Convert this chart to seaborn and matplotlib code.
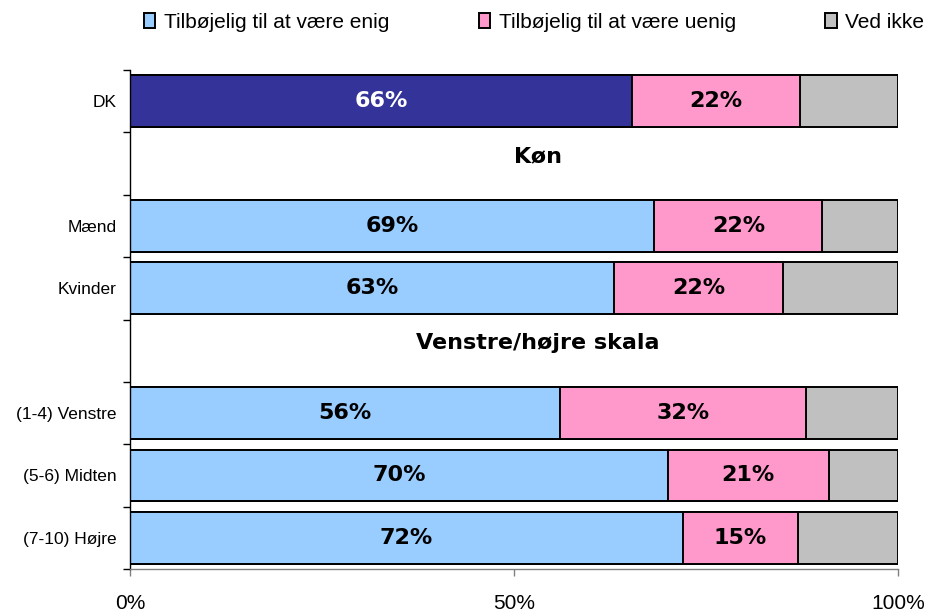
import numpy as np
import pandas as pd
import matplotlib
matplotlib.use("Agg")
import matplotlib.pyplot as plt
import seaborn as sns
from matplotlib.patches import Patch

categories = ["DK", "", "Mænd", "Kvinder", " ", "(1-4) Venstre", "(5-6) Midten", "(7-10) Højre"]
enig = [65.3, np.nan, 68.2, 63.0, np.nan, 55.9, 70.0, 71.9]
uenig = [21.9, np.nan, 21.9, 21.9, np.nan, 32.1, 20.9, 15.0]
enig_labels = ["66%", "", "69%", "63%", "", "56%", "70%", "72%"]
uenig_labels = ["22%", "", "22%", "22%", "", "32%", "21%", "15%"]
group_titles = {1: "Køn", 4: "Venstre/højre skala"}
series_names = ["Tilbøjelig til at være enig", "Tilbøjelig til at være uenig", "Ved ikke"]
xticks = [0, 50, 100]
xticklabels = ["0%", "50%", "100%"]

C_DK = "#333399"
C_ENIG = "#99CCFF"
C_UENIG = "#FF99CC"
C_VED = "#C0C0C0"

df = pd.DataFrame({"cat": categories, "enig": enig, "uenig": uenig})
df["cum2"] = df["enig"] + df["uenig"]
df["total"] = np.where(df["enig"].notna(), 100.0, np.nan)

sns.set_style("white")
plt.rcParams["font.family"] = ["Liberation Sans", "DejaVu Sans"]
plt.rcParams["text.color"] = "black"
plt.rcParams["xtick.labelcolor"] = "black"
plt.rcParams["ytick.labelcolor"] = "black"

fig = plt.figure(figsize=(9.28, 6.13), dpi=100)
ax = fig.add_axes([130.5 / 928, 1 - 569 / 613, 768 / 928, 499 / 613])

w = 0.83
kw = dict(y="cat", orient="h", order=categories, width=w, edgecolor="black",
          linewidth=1.4, ax=ax, saturation=1)
sns.barplot(data=df, x="total", color=C_VED, **kw)
sns.barplot(data=df, x="cum2", color=C_UENIG, **kw)
enig_pal = {c: (C_DK if c == "DK" else C_ENIG) for c in categories}
sns.barplot(data=df, x="enig", hue="cat", palette=enig_pal, legend=False, **kw)

ax.set_xlim(0, 100)
ax.set_ylim(len(categories) - 0.5, -0.5)
ax.set_xlabel("")
ax.set_ylabel("")

# labels
for i in range(len(categories)):
    if enig_labels[i]:
        ax.text(enig[i] / 2, i, enig_labels[i], ha="center", va="center",
                fontsize=16, fontweight="bold", family="DejaVu Sans",
                color="white" if categories[i] == "DK" else "black")
        ax.text(enig[i] + uenig[i] / 2, i, uenig_labels[i], ha="center", va="center",
                fontsize=16, fontweight="bold", family="DejaVu Sans", color="black")
for i, t in group_titles.items():
    ax.text(53, i - 0.12, t, ha="center", va="center", fontsize=16,
            fontweight="bold", family="DejaVu Sans")

# y ticks at boundaries, labels at centers
ax.set_yticks(np.arange(-0.5, len(categories) + 0.5, 1.0))
ax.set_yticklabels([])
ax.set_yticks(np.arange(len(categories)), minor=True)
ax.set_yticklabels(categories, minor=True, fontsize=12.5)
ax.tick_params(axis="y", which="minor", length=0, pad=10)
ax.tick_params(axis="y", which="major", length=5, width=1, color="black", direction="out", left=True)

ax.set_xticks(xticks)
ax.set_xticklabels(xticklabels, fontsize=15)
ax.tick_params(axis="x", length=5, width=1, color="#808080", direction="out", bottom=True, pad=13)

for s in ["top", "right"]:
    ax.spines[s].set_visible(False)
ax.spines["left"].set_color("black")
ax.spines["left"].set_linewidth(1)
ax.spines["bottom"].set_color("#808080")
ax.spines["bottom"].set_linewidth(1)

handles = [Patch(facecolor=c, edgecolor="black", linewidth=1.4) for c in [C_ENIG, C_UENIG, C_VED]]
fig.legend(handles, series_names, loc="center left", bbox_to_anchor=(144 / 928, 1 - 22 / 613),
           ncol=3, frameon=False, fontsize=15, handlelength=0.55, handleheight=0.75,
           handletextpad=0.4, columnspacing=4.3, borderaxespad=0, borderpad=0)

fig.savefig("out.png", dpi=100)
